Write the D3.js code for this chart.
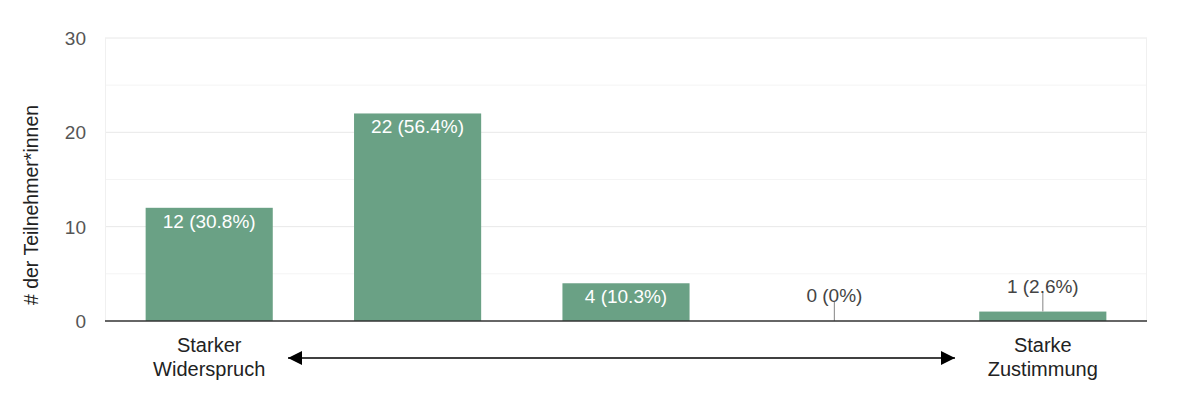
<!DOCTYPE html>
<html><head><meta charset="utf-8">
<script src="https://cdn.jsdelivr.net/npm/d3@7"></script>
<style>
html,body{margin:0;padding:0;background:#fff;}
text{font-family:"Liberation Sans",Arial,sans-serif;}
</style></head>
<body><svg id="c" width="1180" height="416"></svg>
<script>
const categories = ["1","2","3","4","5"];
const values = [12, 22, 4, 0, 1];
const percents = ["30.8%","56.4%","10.3%","0%","2.6%"];
const yTicks = [0, 10, 20, 30];
const minorTicks = [5, 15, 25];
const endLabels = [["Starker","Widerspruch"], null, null, null, ["Starke","Zustimmung"]];
const yTitle = "# der Teilnehmer*innen";

const svg = d3.select("#c");
const m = {l:105, r:1147, t:38, b:321};
const x = d3.scaleBand().domain(categories).range([m.l, m.r]).paddingInner(0.39).paddingOuter(0.195);
const y = d3.scaleLinear().domain([0,30]).range([m.b, m.t]);

// grid
svg.append("g").selectAll("line").data(minorTicks).join("line")
  .attr("x1", m.l).attr("x2", m.r).attr("y1", d=>y(d)).attr("y2", d=>y(d))
  .attr("stroke", "#f4f4f4").attr("stroke-width", 1);
svg.append("g").selectAll("line").data(yTicks.filter(d=>d>0)).join("line")
  .attr("x1", m.l).attr("x2", m.r).attr("y1", d=>y(d)).attr("y2", d=>y(d))
  .attr("stroke", "#e8e8e8").attr("stroke-width", 1);
svg.append("line").attr("x1", m.l+0.5).attr("x2", m.l+0.5).attr("y1", m.t).attr("y2", m.b).attr("stroke","#f0f0f0");
svg.append("line").attr("x1", m.r-0.5).attr("x2", m.r-0.5).attr("y1", m.t).attr("y2", m.b).attr("stroke","#f0f0f0");

// y labels
svg.append("g").selectAll("text").data(yTicks).join("text")
  .attr("x", 86).attr("y", d=>y(d)+7).attr("text-anchor","end")
  .attr("font-size", 19).attr("fill", "#555").text(d=>d);

svg.append("text").attr("transform", `translate(38,${205}) rotate(-90)`)
  .attr("text-anchor","middle").attr("font-size", 19.5).attr("fill","#222").text(yTitle);

// bars
const data = categories.map((c,i)=>({c, v:values[i], p:percents[i]}));
svg.append("g").selectAll("rect").data(data.filter(d=>d.v>0)).join("rect")
  .attr("x", d=>x(d.c)).attr("width", x.bandwidth())
  .attr("y", d=>y(d.v)).attr("height", d=>y(0)-y(d.v))
  .attr("fill", "#6aa185");

// value labels
data.forEach(d=>{
  const cx = x(d.c) + x.bandwidth()/2;
  const label = `${d.v} (${d.p})`;
  if (y(0)-y(d.v) > 22) {
    svg.append("text").attr("x", cx).attr("y", y(d.v)+20).attr("text-anchor","middle")
      .attr("font-size", 19).attr("fill","#fff").text(label);
  } else {
    const top = y(d.v);
    const ty = top - 19;
    svg.append("line").attr("x1", cx).attr("x2", cx).attr("y1", ty).attr("y2", top)
      .attr("stroke","#999").attr("stroke-width",1.2);
    svg.append("text").attr("x", cx).attr("y", ty).attr("text-anchor","middle")
      .attr("font-size", 19).attr("fill","#444").text(label);
  }
});

// baseline
svg.append("line").attr("x1", m.l).attr("x2", m.r).attr("y1", y(0)).attr("y2", y(0))
  .attr("stroke","#333").attr("stroke-width", 1.5);

// category end labels
data.forEach((d,i)=>{
  if (!endLabels[i]) return;
  const cx = x(d.c) + x.bandwidth()/2;
  const t = svg.append("text").attr("text-anchor","middle").attr("font-size",20).attr("fill","#222");
  endLabels[i].forEach((s,k)=>t.append("tspan").attr("x", cx).attr("y", 352+k*24).text(s));
});

// arrow
const defs = svg.append("defs");
defs.append("marker").attr("id","ah").attr("viewBox","0 0 10 10").attr("refX",10).attr("refY",5)
  .attr("markerWidth",14).attr("markerHeight",14).attr("markerUnits","userSpaceOnUse").attr("orient","auto-start-reverse")
  .append("path").attr("d","M0,0 L10,5 L0,10 Z").attr("fill","#000");
svg.append("line").attr("x1", 288).attr("x2", 955).attr("y1", 358).attr("y2", 358)
  .attr("stroke","#000").attr("stroke-width",1.5)
  .attr("marker-start","url(#ah)").attr("marker-end","url(#ah)");
</script></body></html>
